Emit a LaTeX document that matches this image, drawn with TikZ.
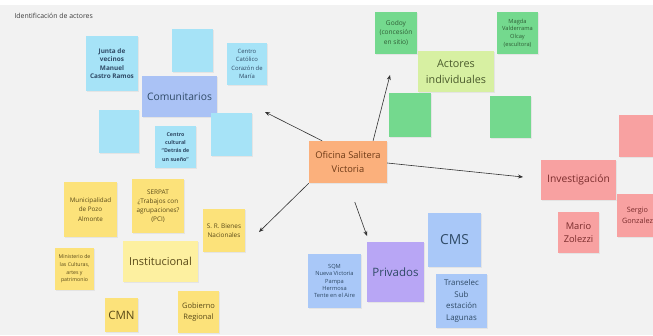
\documentclass[tikz,border=0pt]{standalone}
\usepackage{fontspec}
\setmainfont{Open Sans}
\usetikzlibrary{arrows.meta,calc,shadows}
\definecolor{bg}{HTML}{F2F2F2}
\definecolor{cyannote}{HTML}{A6E3F7}
\definecolor{comunc}{HTML}{AAC2F5}
\definecolor{greennote}{HTML}{74D98E}
\definecolor{lgreen}{HTML}{D7F0A2}
\definecolor{orangec}{HTML}{FBB07C}
\definecolor{pinkc}{HTML}{F8A1A1}
\definecolor{yellowc}{HTML}{FCE27A}
\definecolor{lyellow}{HTML}{FDF0A0}
\definecolor{purplec}{HTML}{B8A6F5}
\definecolor{lbluec}{HTML}{A9C8F8}
\definecolor{txt}{HTML}{3E3E3E}
\definecolor{txtblue}{HTML}{2F4A66}
\definecolor{txtgreen}{HTML}{2F5E36}
\definecolor{txtolive}{HTML}{4A5A2C}
\definecolor{txtbrown}{HTML}{6E3A16}
\definecolor{txtred}{HTML}{7A2C2C}
\definecolor{txtyellow}{HTML}{5A4A18}
\definecolor{arrowc}{HTML}{333333}
\tikzset{
  note/.style={inner sep=0pt, align=center, text=txt,
    drop shadow={opacity=0.12, shadow xshift=0.6pt, shadow yshift=-1pt}},
  arr/.style={draw=arrowc, line width=0.6pt, -{Stealth[length=5pt,width=4pt]}},
}
\begin{document}
\begin{tikzpicture}[x=1pt,y=-1pt]
\fill[bg] (0,0) rectangle (653,335);
\fill[white] (0,0) rectangle (653,5);
\useasboundingbox (0,0) rectangle (653,335);
\node[anchor=west, text=txt, font=\fontsize{6.9}{9}\selectfont] (title) at (11,16) {Identificación de actores};

% Comunitarios
\node[note, fill=cyannote, minimum width=52, minimum height=55, text=txtblue, font=\bfseries\fontsize{6.4}{8.3}\selectfont] (junta) at (112,63.5) {Junta de\\vecinos\\Manuel\\Castro Ramos};
\node[note, fill=cyannote, minimum width=41, minimum height=43] (cb1) at (192.5,50.5) {};
\node[note, fill=cyannote, minimum width=40, minimum height=42, text=txtblue, font=\fontsize{5.9}{8.3}\selectfont] (ccat) at (247,64) {Centro\\Católico\\Corazón de\\María};
\node[note, fill=comunc, minimum width=75, minimum height=41, text=txtblue, font=\fontsize{10.3}{12}\selectfont] (comun) at (179.5,96.5) {Comunitarios};
\node[note, fill=cyannote, minimum width=40, minimum height=43] (cb2) at (119,131.5) {};
\node[note, fill=cyannote, minimum width=41, minimum height=42, text=txtblue, font=\bfseries\fontsize{5.3}{8.2}\selectfont] (ccul) at (175.5,147) {Centro\\cultural\\``Detrás de\\un sueño''};
\node[note, fill=cyannote, minimum width=41, minimum height=43] (cb3) at (231.5,134.5) {};

% Oficina
\node[note, fill=orangec, minimum width=78, minimum height=42, text=txtbrown, font=\fontsize{9.3}{13.3}\selectfont] (ofi) at (348,162) {Oficina Salitera\\Victoria};

% Actores individuales
\node[note, fill=greennote, minimum width=42, minimum height=42, text=txtgreen, font=\fontsize{6.6}{9.3}\selectfont] (godoy) at (396,33) {Godoy\\(concesión\\en sitio)};
\node[note, fill=greennote, minimum width=41, minimum height=42, text=txtgreen, font=\fontsize{5.7}{7.7}\selectfont] (magda) at (517.5,33) {Magda\\Valderrama\\Olcay\\(escultora)};
\node[note, fill=lgreen, minimum width=76, minimum height=41, text=txtolive, font=\fontsize{10.8}{16}\selectfont] (actores) at (456,71.5) {Actores\\individuales};
\node[note, fill=greennote, minimum width=42, minimum height=44] (gb1) at (410,115) {};
\node[note, fill=greennote, minimum width=41, minimum height=42] (gb2) at (510.5,117) {};

% Investigacion
\node[note, fill=pinkc, minimum width=41, minimum height=42] (pb) at (639.5,136) {};
\node[note, fill=pinkc, minimum width=75, minimum height=40, text=txtred, font=\fontsize{10.3}{12}\selectfont] (inv) at (578.5,180) {Investigación};
\node[note, fill=pinkc, minimum width=41, minimum height=43, text=txtred, font=\fontsize{7.3}{10.7}\selectfont] (sergio) at (637.5,215.5) {Sergio\\Gonzalez};
\node[note, fill=pinkc, minimum width=41, minimum height=41, text=txtred, font=\fontsize{9.3}{13}\selectfont] (mario) at (578.5,232.5) {Mario\\Zolezzi};

% Institucional
\node[note, fill=yellowc, minimum width=53, minimum height=55, text=txtyellow, font=\fontsize{6.3}{9.2}\selectfont] (muni) at (90.5,209.5) {Municipalidad\\de Pozo\\Almonte};
\node[note, fill=yellowc, minimum width=52, minimum height=54, text=txtyellow, font=\fontsize{6.4}{9}\selectfont] (serpat) at (158,206) {SERPAT\\¿Trabajos con\\agrupaciones?\\(PCI)};
\node[note, fill=yellowc, minimum width=42, minimum height=43, text=txtyellow, font=\fontsize{6.4}{9.3}\selectfont] (bienes) at (224,230.5) {S. R. Bienes\\Nacionales};
\node[note, fill=yellowc, minimum width=39, minimum height=42, text=txtyellow, font=\fontsize{5.2}{7.6}\selectfont] (minis) at (74.5,269) {Ministerio de\\las Culturas,\\artes y\\patrimonio};
\node[note, fill=lyellow, minimum width=75, minimum height=41, text=txtyellow, font=\fontsize{11}{12}\selectfont] (inst) at (160.5,261.5) {Institucional};
\node[note, fill=yellowc, minimum width=33, minimum height=34, text=txtyellow, font=\fontsize{11.5}{12}\selectfont] (cmn) at (121.5,315) {CMN};
\node[note, fill=yellowc, minimum width=41, minimum height=42, text=txtyellow, font=\fontsize{7.5}{11}\selectfont] (gob) at (198.5,312) {Gobierno\\Regional};

% Privados
\node[note, fill=lbluec, minimum width=53, minimum height=54, text=txtblue, font=\fontsize{5.7}{7.4}\selectfont] (sqm) at (334.5,281) {SQM\\Nueva Victoria\\Pampa\\Hermosa\\Tente en el Aire};
\node[note, fill=purplec, minimum width=57, minimum height=60, text=txtblue, font=\fontsize{11.5}{13}\selectfont] (priv) at (395.5,272) {Privados};
\node[note, fill=lbluec, minimum width=53, minimum height=54, text=txtblue, font=\fontsize{13.8}{15}\selectfont] (cms) at (454.5,240) {CMS};
\node[note, fill=lbluec, minimum width=51, minimum height=54, text=txtblue, font=\fontsize{7.9}{11.4}\selectfont] (trans) at (461.5,301) {Transelec\\Sub\\estación\\Lagunas};

% Arrow tips
\coordinate (tipC) at (265,112);
\coordinate (tipG) at (390,75);
\coordinate (tipI) at (523,177);
\coordinate (tipN) at (259,232);
\coordinate (tipP) at (367,236);

\draw[arr] ($(ofi.north west)!0.17!(ofi.north east)$) -- (tipC);
\draw[arr] ($(ofi.north west)!0.82!(ofi.north east)$) -- (tipG);
\draw[arr] ($(ofi.east)+(0,1)$) -- (tipI);
\draw[arr] (ofi.south west) -- (tipN);
\draw[arr, shorten <=20pt] (ofi.south) -- (tipP);
\end{tikzpicture}
\end{document}
